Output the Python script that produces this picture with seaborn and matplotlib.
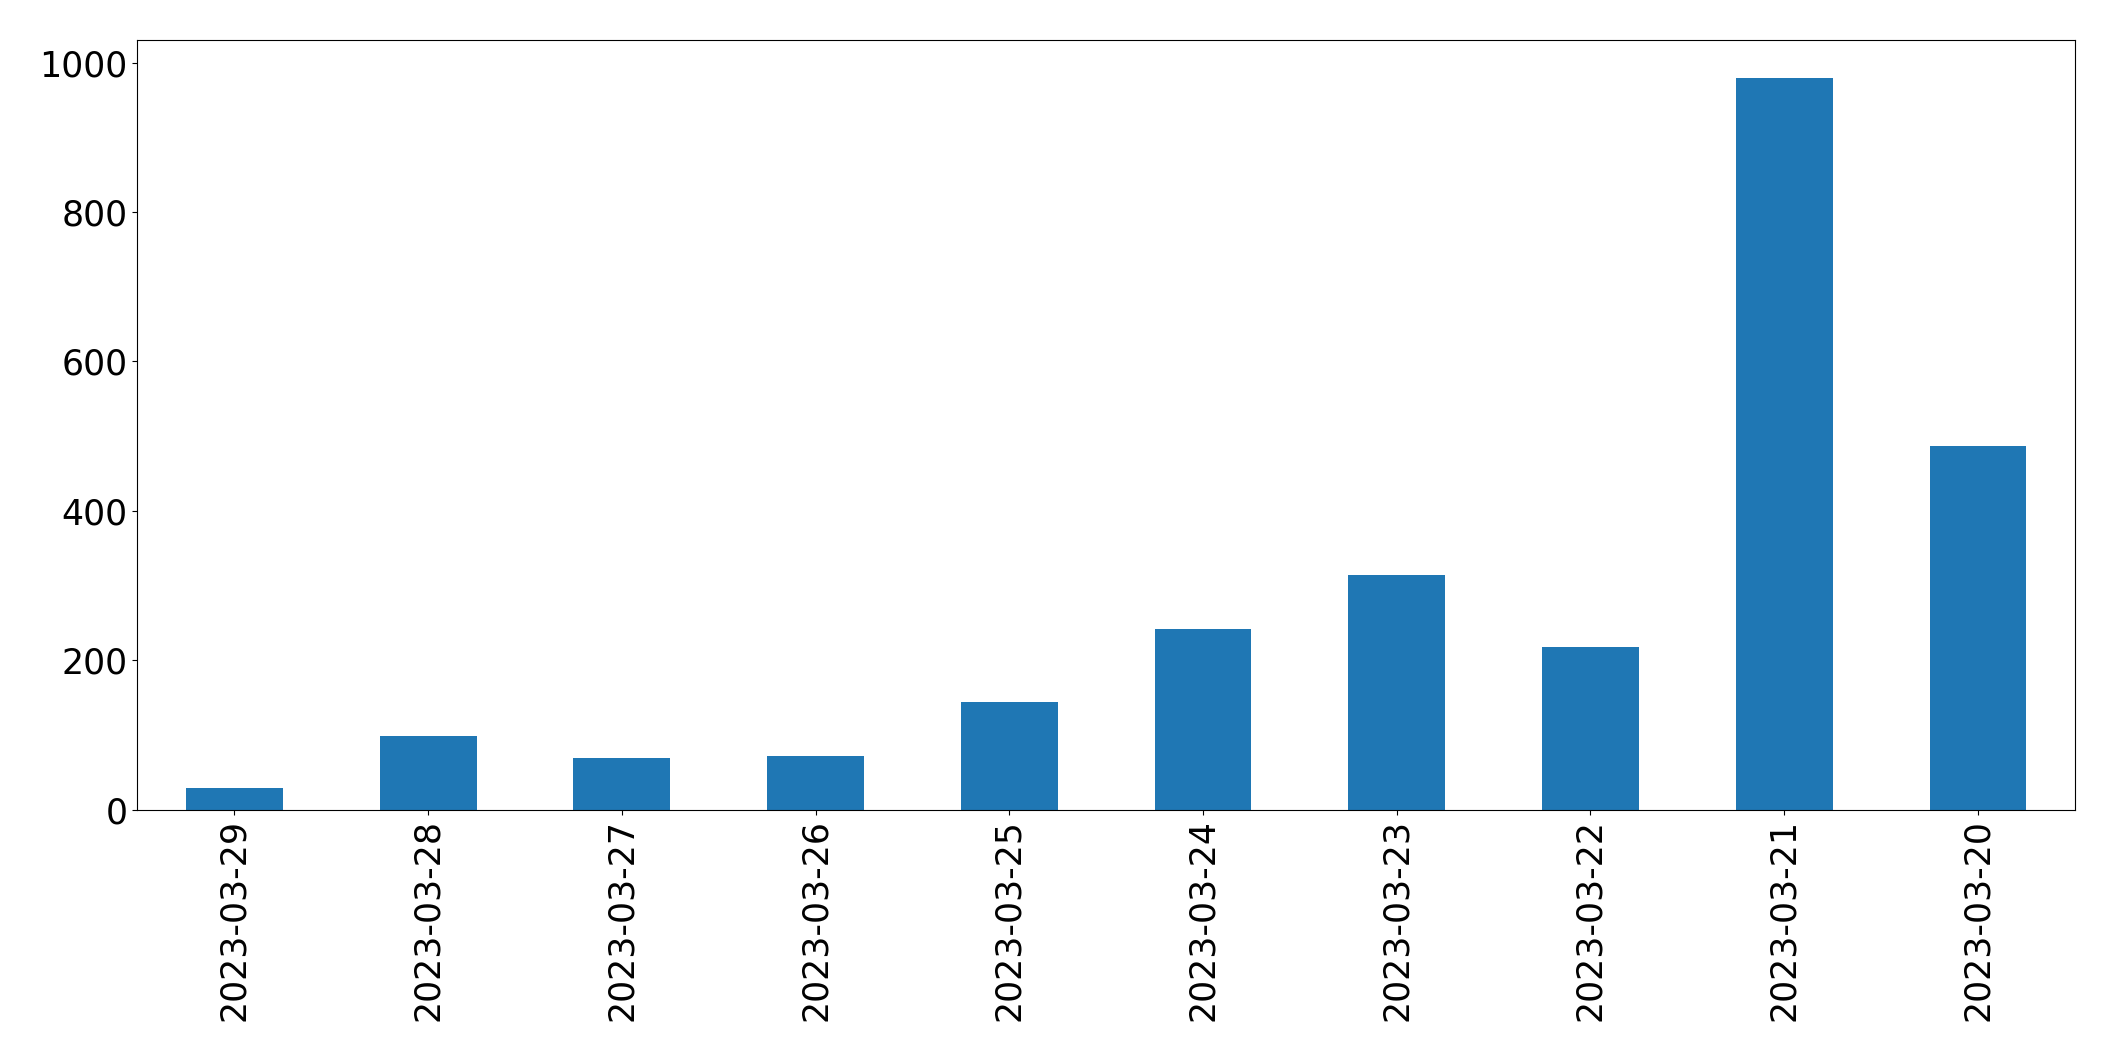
import matplotlib
matplotlib.use("Agg")
import matplotlib.pyplot as plt
import seaborn as sns
import pandas as pd

dates = ["2023-03-29", "2023-03-28", "2023-03-27", "2023-03-26", "2023-03-25",
         "2023-03-24", "2023-03-23", "2023-03-22", "2023-03-21", "2023-03-20"]
counts = [29, 99, 69, 72, 144, 242, 314, 217, 980, 487]

df = pd.DataFrame({"date": dates, "count": counts})

fig = plt.figure(figsize=(21.15, 10.61), dpi=100)
ax = fig.add_axes([0.065, 0.237, 0.916, 0.725])
sns.barplot(data=df, x="date", y="count", color="#1f77b4", saturation=1,
            width=0.5, ax=ax)
ax.set_xlabel("")
ax.set_ylabel("")
ax.set_xlim(-0.5, len(dates) - 0.5)
ax.set_ylim(0, 1030)
ax.tick_params(axis="both", labelsize=25)
ax.tick_params(axis="x", labelrotation=90)
fig.savefig("out.png", dpi=100)
